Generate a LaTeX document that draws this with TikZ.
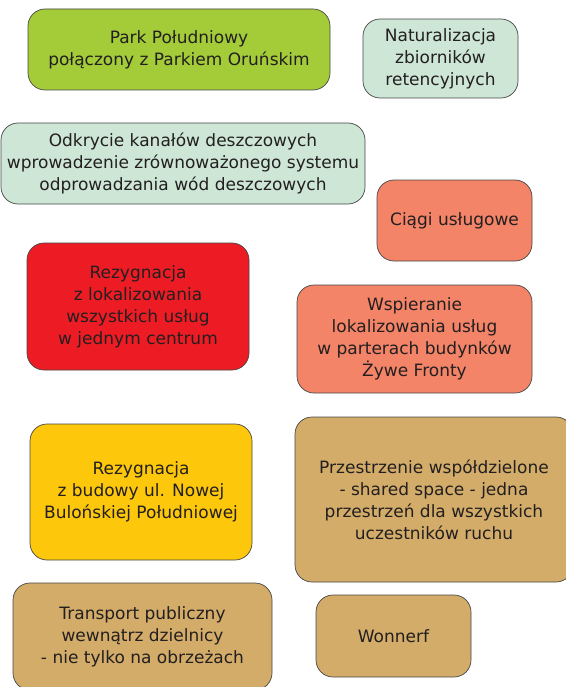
\documentclass[tikz,border=0pt]{standalone}
\usepackage{fontspec}
\setmainfont{DejaVu Sans}
\usepackage{xcolor}
\usepackage{tikz}
\definecolor{parkgreen}{RGB}{164, 204, 57}
\definecolor{wodamint}{RGB}{205, 230, 214}
\definecolor{uslugisalmon}{RGB}{243, 132, 104}
\definecolor{rezred}{RGB}{237, 28, 36}
\definecolor{rezyellow}{RGB}{253, 199, 12}
\definecolor{ruchtan}{RGB}{210, 172, 104}
\definecolor{tekst}{RGB}{35, 31, 32}
\definecolor{obrys}{RGB}{70, 70, 70}

\tikzset{
	blok/.style={draw=obrys, line width=0.7pt, rounded corners=17pt, align=center,
		text=tekst, inner sep=0pt, font=\fontsize{17}{22}\selectfont},
}

\begin{document}
\begin{tikzpicture}[x=1pt, y=-1pt]
			\useasboundingbox (0, 0) rectangle (565, 687);

			% --- Zielen i woda ---
			\node[blok, fill=parkgreen, minimum width=302pt, minimum height=81pt] (park) at (179, 49.5)
				{Park Południowy\\połączony z Parkiem Oruńskim};
			\node[blok, fill=wodamint, minimum width=155pt, minimum height=79pt] (natur) at (440.5, 58.5)
				{Naturalizacja\\zbiorników\\retencyjnych};
			\node[blok, fill=wodamint, minimum width=364pt, minimum height=81pt] (odkr) at (183, 163.5)
				{Odkrycie kanałów deszczowych\\wprowadzenie zrównoważonego systemu\\odprowadzania wód deszczowych};

			% --- Uslugi ---
			\node[blok, fill=uslugisalmon, minimum width=155pt, minimum height=81pt] (ciagi) at (454.5, 220.5)
				{Ciągi usługowe};
			\node[blok, fill=rezred, minimum width=222pt, minimum height=127pt] (rezcent) at (138, 306.5)
				{Rezygnacja\\z lokalizowania\\wszystkich usług\\w jednym centrum};
			\node[blok, fill=uslugisalmon, minimum width=235pt, minimum height=108pt] (wsp) at (414.5, 339)
				{Wspieranie\\lokalizowania usług\\w parterach budynków\\Żywe Fronty};

			% --- Ruch ---
			\node[blok, fill=rezyellow, minimum width=222pt, minimum height=136pt] (rezul) at (141, 492)
				{Rezygnacja\\z budowy ul. Nowej\\Bulońskiej Południowej};
			\node[blok, fill=ruchtan, minimum width=278pt, minimum height=165pt] (shared) at (434, 499.5)
				{Przestrzenie współdzielone\\- shared space - jedna\\przestrzeń dla wszystkich\\uczestników ruchu};
			\node[blok, fill=ruchtan, minimum width=259pt, minimum height=107pt] (transp) at (142.5, 636.5)
				{Transport publiczny\\wewnątrz dzielnicy\\- nie tylko na obrzeżach};
			\node[blok, fill=ruchtan, minimum width=155pt, minimum height=82pt] (woon) at (393.5, 636)
				{Wonnerf};
\end{tikzpicture}
\end{document}
